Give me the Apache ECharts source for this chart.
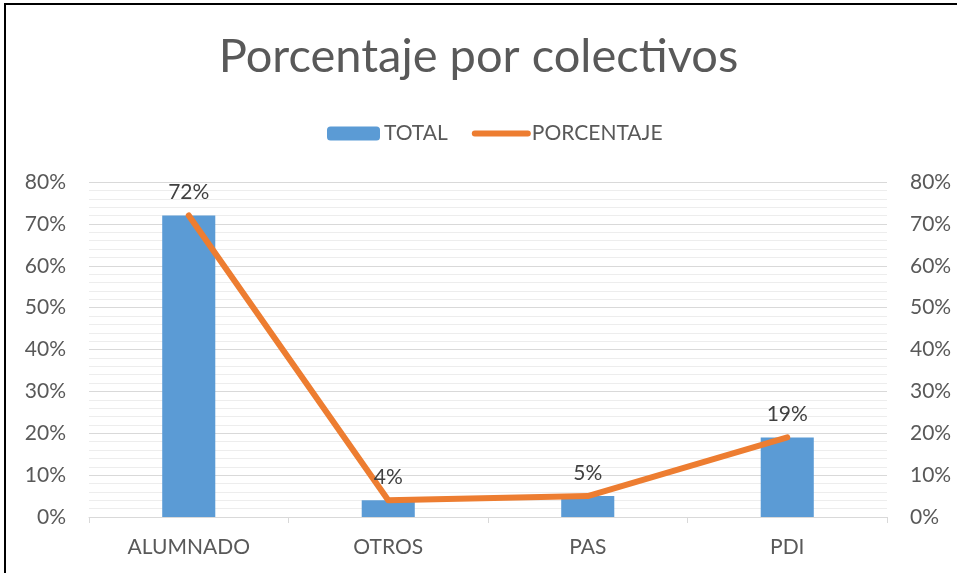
<!DOCTYPE html>
<html>
<head>
<meta charset="utf-8">
<script src="https://cdn.jsdelivr.net/npm/echarts@6/dist/echarts.min.js"></script>
<style>
  html, body { margin: 0; padding: 0; background: #fff; }
  #main { position: absolute; left: 0; top: 0; width: 957px; height: 573px; }
  #frame { position: absolute; left: 4px; top: 3px; width: 960px; height: 580px;
           border-top: 2px solid #000; border-left: 2px solid #000; pointer-events: none; }
</style>
</head>
<body>
<div id="main"></div>
<div id="frame"></div>
<script>
// data
var categories = ['ALUMNADO', 'OTROS', 'PAS', 'PDI'];
var totalValues = [0.72, 0.04, 0.05, 0.19];
var porcentajeValues = [0.72, 0.04, 0.05, 0.19];
var yMin = 0, yMax = 0.8, yStep = 0.1;

var dom = document.getElementById('main');
var myChart = echarts.init(dom);

var fontFam = 'Lato, "Open Sans", sans-serif';
function pct(v) { return Math.round(v * 100) + '%'; }

function yAxisCfg() {
    return {
        type: 'value',
        min: yMin,
        max: yMax,
        interval: yStep,
        axisLine: { show: false },
        axisTick: { show: false },
        axisLabel: { formatter: pct, color: '#595959', fontSize: 21, fontFamily: fontFam, margin: 23 },
        splitLine: { show: true, lineStyle: { color: '#d9d9d9', width: 1 } },
        minorTick: { show: false, splitNumber: 5 },
        minorSplitLine: { show: true, lineStyle: { color: '#ededed', width: 1 } }
    };
}

var option = {
    backgroundColor: '#fff',
    animation: false,
    title: {
        text: 'Porcentaje por colectivos',
        left: 'center',
        top: 28,
        textStyle: { color: '#595959', fontSize: 47, fontWeight: 'normal', fontFamily: fontFam }
    },
    legend: {
        top: 118,
        left: 322,
        itemGap: 24,
        itemWidth: 53,
        itemHeight: 14,
        textStyle: { color: '#595959', fontSize: 21, fontFamily: fontFam, padding: [0, 0, 0, -1] },
        data: [
            'TOTAL',
            { name: 'PORCENTAJE', itemStyle: { opacity: 0 }, lineStyle: { width: 6, cap: 'round', color: '#ed7d31' } }
        ]
    },
    grid: { left: 89, right: 70, top: 182, bottom: 56 },
    xAxis: {
        type: 'category',
        data: categories,
        axisLine: { lineStyle: { color: '#d9d9d9', width: 1 } },
        axisTick: { show: true, length: 6, lineStyle: { color: '#d9d9d9' } },
        axisLabel: { color: '#595959', fontSize: 21, fontFamily: fontFam, margin: 20 },
        splitLine: { show: false }
    },
    yAxis: [yAxisCfg(), Object.assign(yAxisCfg(), { position: 'right' })],
    series: [
        {
            name: 'TOTAL',
            type: 'bar',
            data: totalValues,
            barWidth: '26.6%',
            itemStyle: { color: '#5b9bd5' }
        },
        {
            name: 'PORCENTAJE',
            type: 'line',
            yAxisIndex: 1,
            data: porcentajeValues,
            symbol: 'circle',
            symbolSize: 1,
            itemStyle: { color: '#ed7d31' },
            lineStyle: { color: '#ed7d31', width: 6, cap: 'round', join: 'round' },
            label: {
                show: true,
                position: 'top',
                distance: 12,
                formatter: function (p) { return pct(p.value); },
                color: '#404040',
                fontSize: 21,
                fontFamily: fontFam
            }
        }
    ]
};

myChart.setOption(option);
</script>
</body>
</html>
